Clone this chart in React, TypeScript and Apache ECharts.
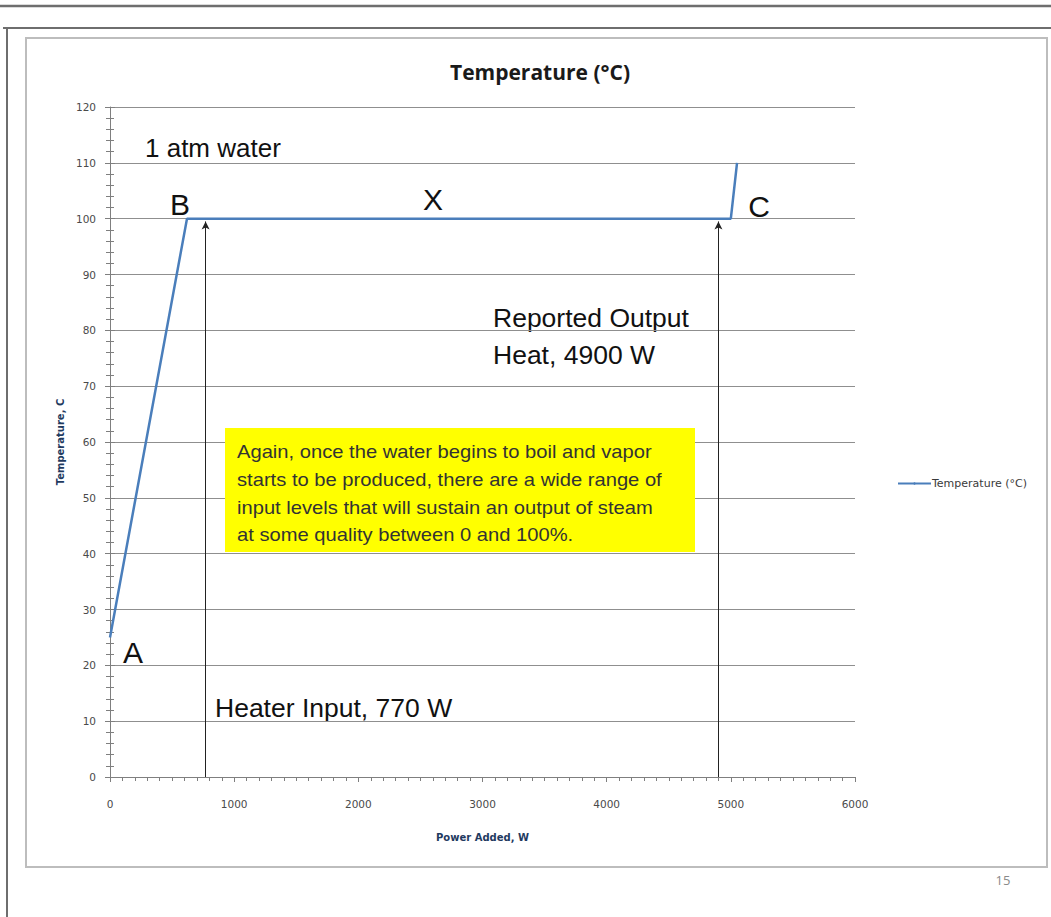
import React, { useEffect, useRef } from "react";
import * as echarts from "echarts";

const seriesName = "Temperature (°C)";
const powerW = [0, 620, 5000, 5050];
const tempC = [25, 100, 100, 110];
const heaterInputW = 770;
const reportedOutputW = 4900;
const arrowTopC = 99.5;
const boxLines = [
  "Again, once the water begins to boil and vapor",
  "starts to be produced, there are a wide range of",
  "input levels that will sustain an output of steam",
  "at some quality between 0 and 100%.",
];

export default function App() {
  const ref = useRef<HTMLDivElement>(null);
  useEffect(() => {
    if (!ref.current) return;
    const chart = echarts.init(ref.current, null, { renderer: "svg" });
    const data = powerW.map((p, i) => [p, tempC[i]]);
    const fontA = "'Liberation Sans', Arial, sans-serif";
    const fontD = "'DejaVu Sans', sans-serif";
    const fontO = "'Open Sans', sans-serif";
    const tickColor = "#7f7f7f";
    const commonX = {
      type: "value",
      min: 0,
      max: 6000,
      interval: 1000,
      splitLine: { show: false },
    };
    const commonY = {
      type: "value",
      min: 0,
      max: 120,
      interval: 10,
    };
    chart.setOption({
      animation: false,
      backgroundColor: "#ffffff",
      title: {
        text: "Temperature (°C)",
        left: 535,
        top: 56,
        textAlign: "center",
        textStyle: { fontFamily: fontO, fontSize: 21, fontWeight: "bold", color: "#1a1a1a" },
      },
      legend: {
        data: [seriesName],
        left: 892,
        top: 473,
        itemWidth: 33,
        itemHeight: 3,
        itemGap: 0,
        textStyle: { fontFamily: fontD, fontSize: 11, color: "#3a3a3a", padding: [0, 0, 0, -4] },
      },
      grid: { left: 110, right: 196, top: 107, bottom: 140 },
      xAxis: [
        {
          ...commonX,
          name: "Power Added, W",
          nameLocation: "middle",
          nameGap: 55,
          nameTextStyle: { fontFamily: fontD, fontSize: 10, fontWeight: "bold", color: "#1f3a5f" },
          axisLine: { show: true, lineStyle: { color: tickColor, width: 1 } },
          axisTick: { show: true, length: 5, lineStyle: { color: tickColor } },
          minorTick: { show: true, splitNumber: 10, length: 4, lineStyle: { color: tickColor } },
          axisLabel: { margin: 21, fontFamily: fontD, fontSize: 10.5, color: "#4a4a4a", formatter: (v: number) => String(v) },
        },
        {
          ...commonX,
          axisLine: { show: false },
          axisTick: { show: true, inside: true, length: 5, lineStyle: { color: tickColor } },
          minorTick: { show: true, splitNumber: 10, length: 4, lineStyle: { color: tickColor } },
          axisLabel: { show: false },
        },
      ],
      yAxis: [
        {
          ...commonY,
          name: "Temperature, C",
          nameLocation: "middle",
          nameGap: 44,
          nameTextStyle: { fontFamily: fontD, fontSize: 10, fontWeight: "bold", color: "#1f3a5f" },
          axisLine: { show: true, lineStyle: { color: tickColor, width: 1 } },
          axisTick: { show: true, length: 5, lineStyle: { color: tickColor } },
          minorTick: { show: true, splitNumber: 5, length: 4, lineStyle: { color: tickColor } },
          axisLabel: { margin: 14, fontFamily: fontD, fontSize: 10.5, color: "#4a4a4a" },
          splitLine: { show: true, lineStyle: { color: "#8f8f8f", width: 1.2 } },
        },
        {
          ...commonY,
          position: "left",
          axisLine: { show: false },
          axisTick: { show: true, inside: true, length: 5, lineStyle: { color: tickColor } },
          minorTick: { show: true, splitNumber: 5, length: 4, lineStyle: { color: tickColor } },
          axisLabel: { show: false },
          splitLine: { show: false },
        },
      ],
      series: [
        {
          name: seriesName,
          type: "line",
          data,
          showSymbol: false,
          symbol: "none",
          lineStyle: { color: "#4a7ebb", width: 2.5 },
          itemStyle: { color: "#4a7ebb" },
          markLine: {
            silent: true,
            symbol: ["none", "arrow"],
            symbolSize: [6, 8],
            label: { show: false },
            lineStyle: { color: "#222", width: 1, type: "solid" },
            data: [
              [{ coord: [heaterInputW, 0] }, { coord: [heaterInputW, arrowTopC] }],
              [{ coord: [reportedOutputW, 0] }, { coord: [reportedOutputW, arrowTopC] }],
            ],
          },
        },
      ],
      graphic: [
        // page frame
        { type: "line", shape: { x1: 0, y1: 6, x2: 1051, y2: 6 }, style: { stroke: "#6e6e6e", lineWidth: 2.5 } },
        { type: "line", shape: { x1: 3, y1: 28, x2: 1051, y2: 28 }, style: { stroke: "#6e6e6e", lineWidth: 2 } },
        { type: "line", shape: { x1: 7, y1: 28, x2: 7, y2: 917 }, style: { stroke: "#6e6e6e", lineWidth: 2 } },
        {
          type: "rect",
          shape: { x: 26, y: 38, width: 1021, height: 829 },
          style: { fill: "none", stroke: "#bdbdbd", lineWidth: 2 },
          z: -1,
        },
        {
          type: "text",
          x: 1003,
          y: 880,
          style: { text: "15", fontFamily: fontO, fontSize: 13, fill: "#8a8a8a", textAlign: "center", textVerticalAlign: "middle" },
        },
        // annotations
        {
          type: "text",
          x: 145,
          y: 148,
          style: { text: "1 atm water", fontFamily: fontA, fontSize: 26, fill: "#111", textVerticalAlign: "middle" },
        },
        {
          type: "text",
          x: 180,
          y: 204,
          style: { text: "B", fontFamily: fontA, fontSize: 30, fill: "#111", textAlign: "center", textVerticalAlign: "middle" },
        },
        {
          type: "text",
          x: 433,
          y: 199,
          style: { text: "X", fontFamily: fontA, fontSize: 30, fill: "#111", textAlign: "center", textVerticalAlign: "middle" },
        },
        {
          type: "text",
          x: 759,
          y: 206,
          style: { text: "C", fontFamily: fontA, fontSize: 30, fill: "#111", textAlign: "center", textVerticalAlign: "middle" },
        },
        {
          type: "text",
          x: 133,
          y: 652,
          style: { text: "A", fontFamily: fontA, fontSize: 30, fill: "#111", textAlign: "center", textVerticalAlign: "middle" },
        },
        {
          type: "text",
          x: 493,
          y: 318,
          style: { text: "Reported Output", fontFamily: fontA, fontSize: 26.5, fill: "#111", textVerticalAlign: "middle" },
        },
        {
          type: "text",
          x: 493,
          y: 355,
          style: { text: "Heat, 4900 W", fontFamily: fontA, fontSize: 26.5, fill: "#111", textVerticalAlign: "middle" },
        },
        {
          type: "text",
          x: 215,
          y: 708,
          style: { text: "Heater Input, 770 W", fontFamily: fontA, fontSize: 26.5, fill: "#111", textVerticalAlign: "middle" },
        },
        {
          type: "rect",
          shape: { x: 225, y: 428, width: 470, height: 124 },
          style: { fill: "#ffff00", stroke: "none" },
          z: 50,
        },
        ...boxLines.map((t, i) => ({
          type: "text",
          x: 237,
          y: 452 + i * 27.7,
          scaleX: 1.12,
          z: 51,
          style: { text: t, fontFamily: fontA, fontSize: 18, fill: "#333", textVerticalAlign: "middle" },
        })),
      ],
    });
    return () => chart.dispose();
  }, []);
  return (
    <div
      ref={ref}
      style={{ position: "absolute", left: 0, top: 0, width: 1051, height: 917, background: "#fff" }}
    />
  );
}
